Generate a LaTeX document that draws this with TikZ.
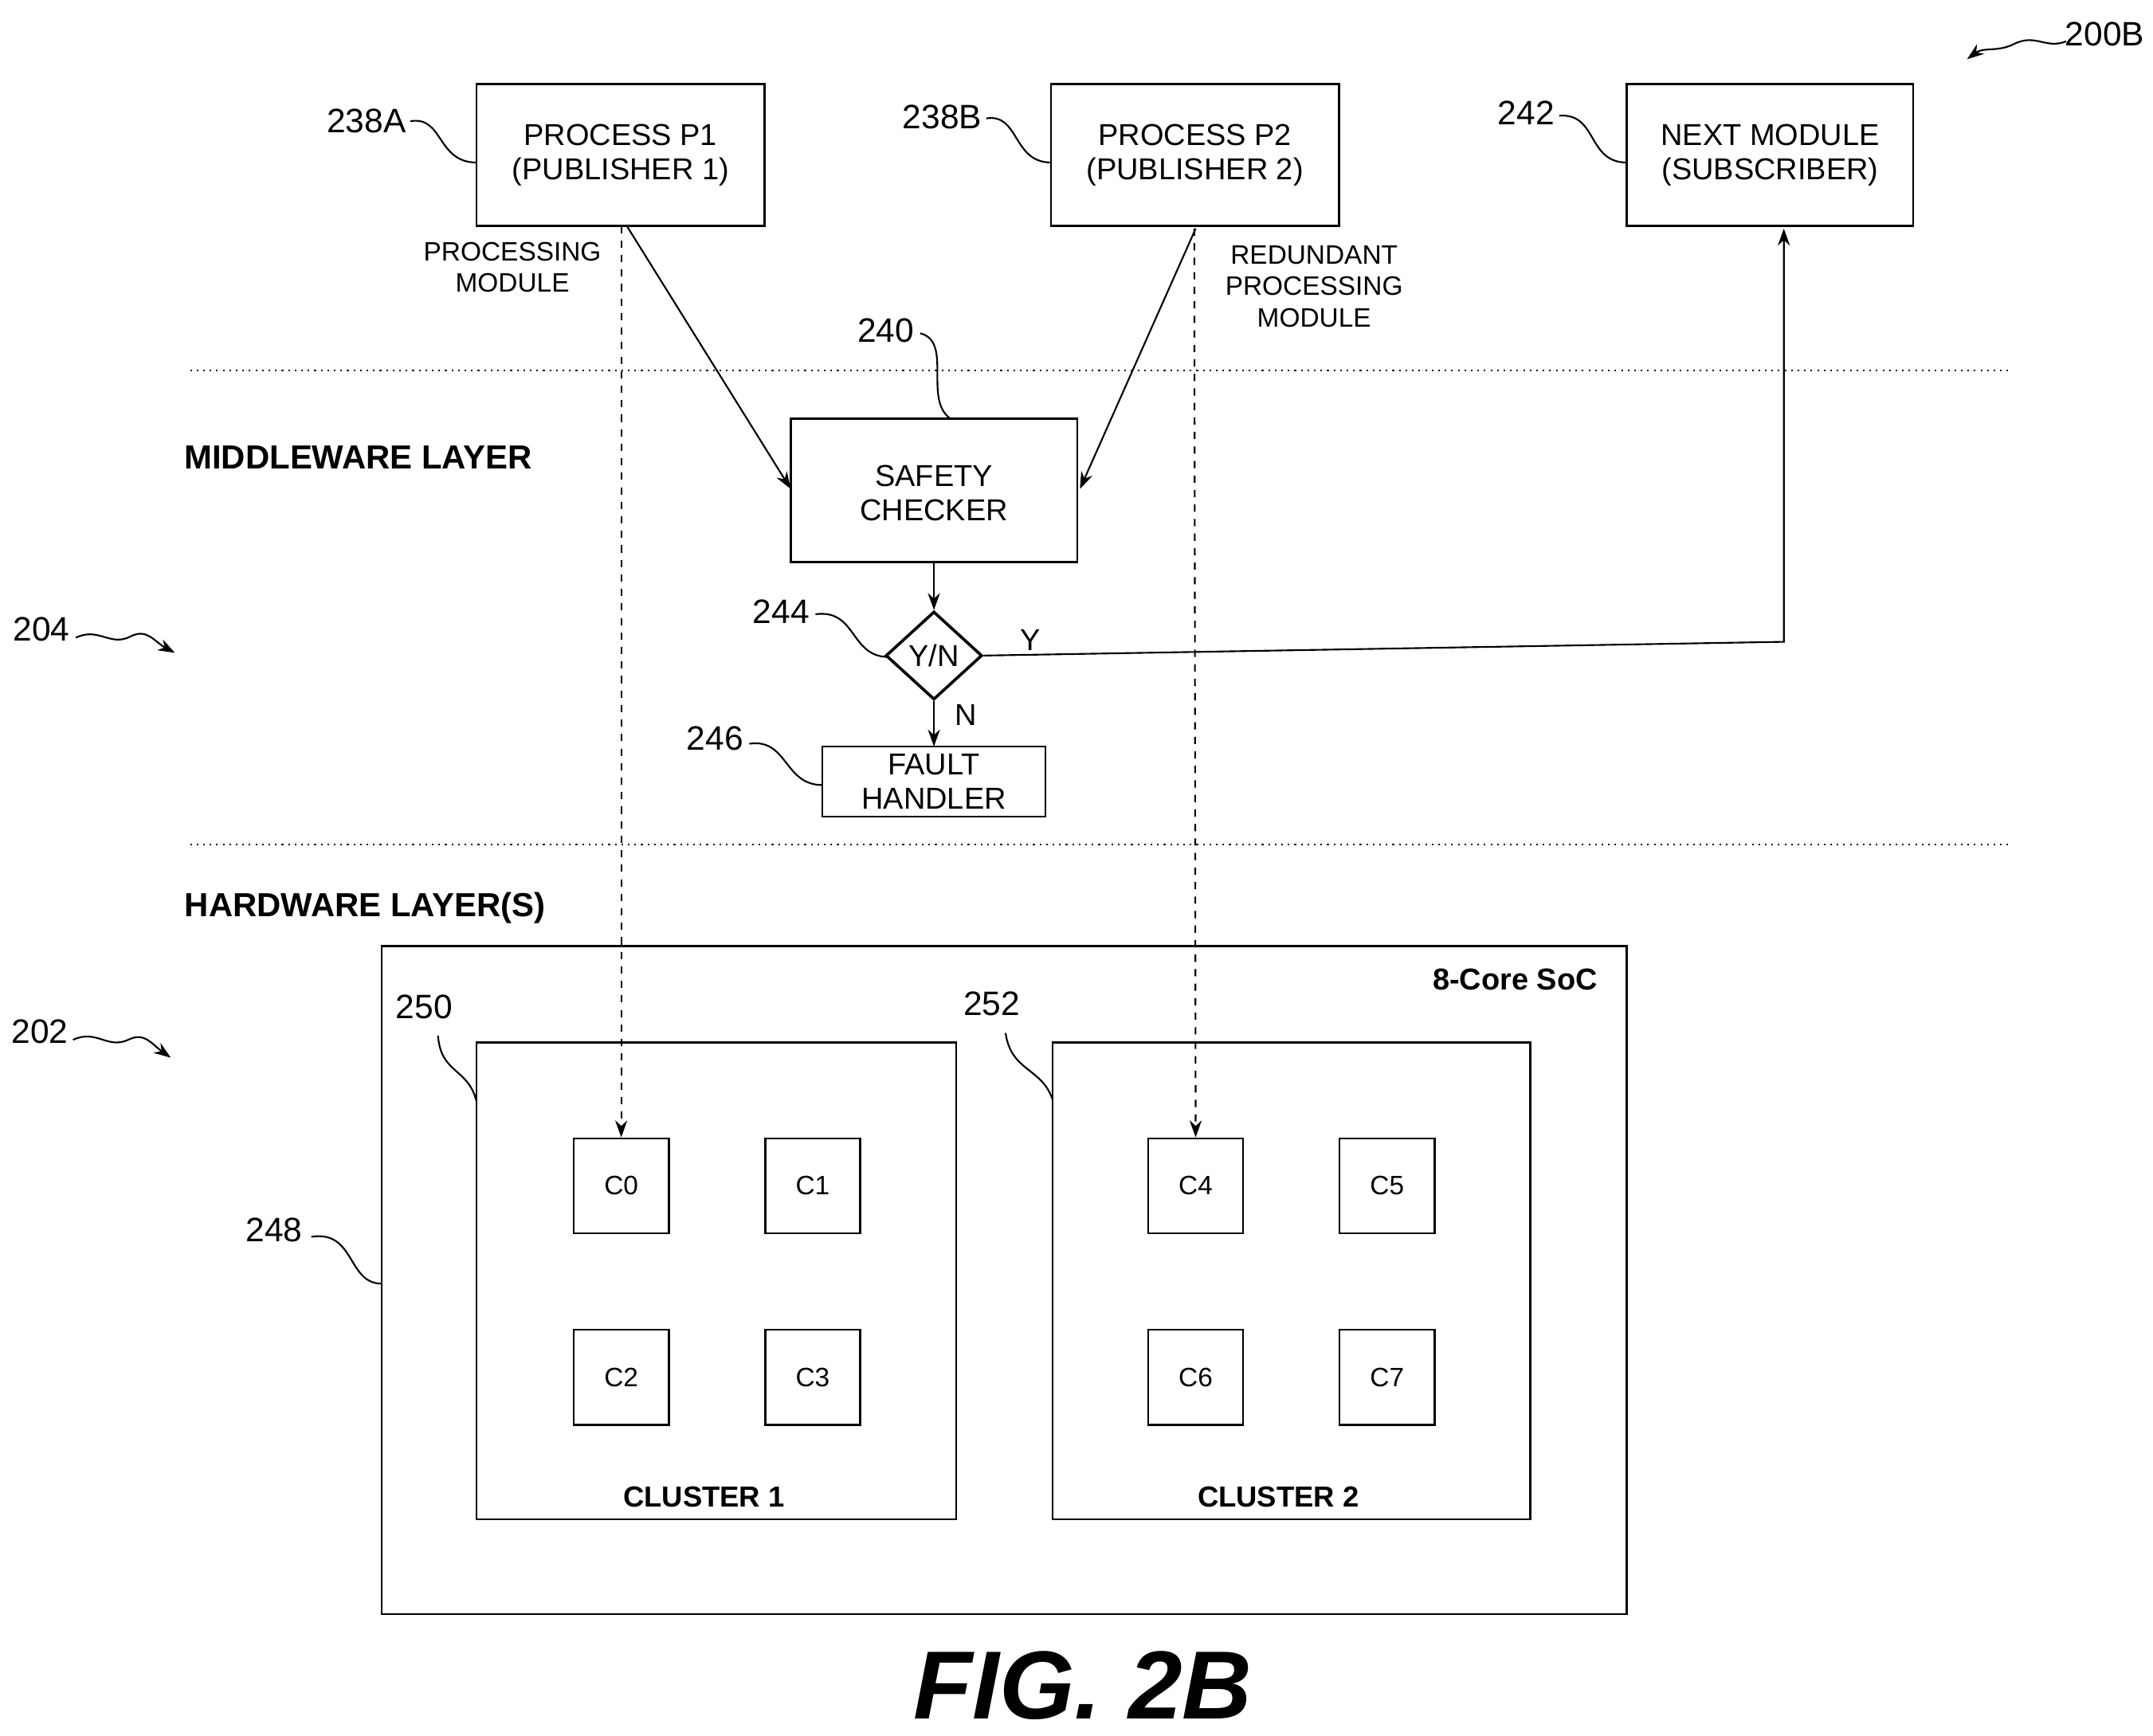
\documentclass[tikz,border=0pt]{standalone}
\usepackage{fontspec}
\setmainfont{Liberation Sans}
\usetikzlibrary{arrows.meta,shapes.geometric}
\begin{document}
\begin{tikzpicture}[x=0.02cm,y=-0.02cm,
  box/.style={draw,line width=0.8pt,inner sep=0pt},
  txt/.style={font=\fontsize{12.5}{14}\selectfont,align=center},
  num/.style={font=\fontsize{14}{16}\selectfont},
  lbl/.style={font=\fontsize{11}{13}\selectfont,align=center},
  bl/.style={font=\bfseries\fontsize{13.8}{16}\selectfont},
  arr/.style={-{Stealth[length=7pt,width=5pt]},line width=0.7pt},
  lead/.style={line width=0.7pt},
  sep/.style={dotted,line width=0.7pt}]
\useasboundingbox (0,0) rectangle (1563,1260);
% top boxes
\draw[box] (346,61) rectangle (555,164); \node[txt] (p1) at (450.5,112.5) {PROCESS P1\\(PUBLISHER 1)};
\draw[box] (763,61) rectangle (972,164); \node[txt] (p2) at (867.5,112.5) {PROCESS P2\\(PUBLISHER 2)};
\draw[box] (1181,61) rectangle (1389,164); \node[txt] (nm) at (1285,112.5) {NEXT MODULE\\(SUBSCRIBER)};
\draw[box] (574,304) rectangle (782,408); \node[txt] (sc) at (678,358) {SAFETY\\CHECKER};
\node[draw,diamond,line width=1.2pt,minimum width=70*0.02cm,minimum height=64*0.02cm,inner sep=0pt,txt] (yn) at (678,476) {Y/N};
\draw[box] (597,542) rectangle (759,593); \node[txt] (fh) at (678,567.5) {FAULT\\HANDLER};
% separators
\draw[sep] (138,269) -- (1458,269);
\draw[sep] (138,613) -- (1458,613);
\node[bl] (mw) at (260,332) {MIDDLEWARE LAYER};
\node[bl] (hw) at (265,659) {HARDWARE LAYER(S)};
\node[lbl] (pm) at (372,194) {PROCESSING\\MODULE};
\node[lbl] (rpm) at (954,208) {REDUNDANT\\PROCESSING\\MODULE};
% hardware
\draw[box] (277,687) rectangle (1181,1172);
\node[font=\bfseries\fontsize{12.5}{14}\selectfont] (soc) at (1100,711) {8-Core SoC};
\draw[box] (346,757) rectangle (694,1103);
\draw[box] (764,757) rectangle (1111,1103);
\node[font=\bfseries\fontsize{12}{14}\selectfont] (cl1) at (511,1087) {CLUSTER 1};
\node[font=\bfseries\fontsize{12}{14}\selectfont] (cl2) at (928,1087) {CLUSTER 2};
\foreach \n/\x/\y in {0/451/861,1/590/861,2/451/1000,3/590/1000,4/868/861,5/1007/861,6/868/1000,7/1007/1000}
  \node[draw,line width=0.8pt,minimum size=69*0.02cm,inner sep=0pt,lbl] (c\n) at (\x,\y) {C\n};
% connectors
\draw[arr,dashed] (451,164) -- (c0.north);
\draw[arr,dashed] (867,166) -- (c4.north);
\draw[arr] (455,164) -- (574,355);
\draw[arr] (868,166) -- (784,355);
\draw[arr] (sc.south |- 0,408) -- (yn.north);
\draw[arr] (yn.south) -- (678,542);
\node[txt] (nl) at (701,519) {N};
\node[txt] (yl) at (748,465) {Y};
\coordinate (bend) at (1295,466);
\draw[arr] (yn.east) -- (bend) -- (1295,166);
% reference numbers
\node[num] (r238a) at (266,88) {238A};
\draw[lead] (298,88) .. controls (322,84) and (317,118) .. (346,118);
\node[num] (r238b) at (684,85) {238B};
\draw[lead] (716,86) .. controls (740,82) and (735,118) .. (763,118);
\node[num] (r242) at (1108,82) {242};
\draw[lead] (1132,84) .. controls (1160,82) and (1152,118) .. (1181,118);
\node[num] (r240) at (643,240) {240};
\draw[lead] (668,242) .. controls (692,248) and (670,290) .. (690,304);
\node[num] (r244) at (567,444) {244};
\draw[lead] (592,446) .. controls (622,442) and (617,477) .. (645,477);
\node[num] (r246) at (519,536) {246};
\draw[lead] (544,540) .. controls (572,536) and (569,570) .. (597,570);
\node[num] (r250) at (308,731) {250};
\draw[lead] (318,752) .. controls (320,780) and (340,775) .. (346,800);
\node[num] (r252) at (720,729) {252};
\draw[lead] (730,750) .. controls (734,778) and (756,775) .. (764,798);
\node[num] (r248) at (199,893) {248};
\draw[lead] (226,898) .. controls (258,893) and (252,932) .. (277,932);
\node[num] (r204) at (30,457) {204};
\draw[arr] (55,463) .. controls (72,455) and (80,470) .. (95,462) .. controls (107,456) and (112,466) .. (127,474);
\node[num] (r202) at (29,749) {202};
\draw[arr] (53,755) .. controls (70,747) and (78,762) .. (93,755) .. controls (105,749) and (110,758) .. (124,768);
\node[num] (r200) at (1528,25) {200B};
\draw[arr] (1500,30) .. controls (1485,36) and (1478,24) .. (1462,32) .. controls (1450,38) and (1440,34) .. (1428,43);
\node[font=\bfseries\itshape\fontsize{40}{44}\selectfont] (fig) at (786,1224) {FIG. 2B};
\end{tikzpicture}
\end{document}
